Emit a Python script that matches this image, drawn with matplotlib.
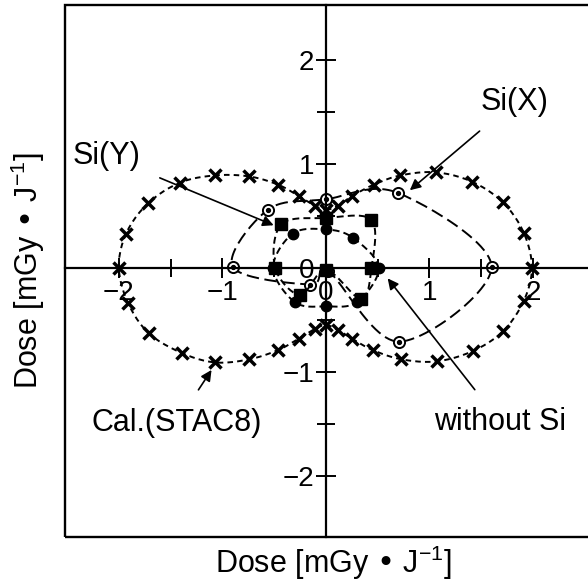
import numpy as np
import matplotlib
matplotlib.use("Agg")
import matplotlib.pyplot as plt
from matplotlib.patches import Rectangle

plt.rcParams['font.family'] = ['Liberation Sans', 'DejaVu Sans']
plt.rcParams['lines.scale_dashes'] = False

## Dose points (x, y) in mGy/J ##

# calculation, STAC8 (two-lobed curve, traced clockwise from the top centre)
cal_x = [0.00, 0.12, 0.25, 0.46, 0.72, 1.06, 1.41, 1.71, 1.91, 1.99,
         1.91, 1.71, 1.42, 1.07, 0.73, 0.45, 0.25, 0.12,
         0.00, -0.11, -0.26, -0.46, -0.74, -1.07, -1.39, -1.71, -1.91, -2.00,
         -1.93, -1.72, -1.41, -1.07, -0.74, -0.46, -0.26, -0.11]
cal_y = [0.56, 0.60, 0.69, 0.80, 0.89, 0.92, 0.83, 0.63, 0.34, 0.00,
         -0.32, -0.61, -0.80, -0.90, -0.88, -0.79, -0.68, -0.60,
         -0.55, -0.59, -0.68, -0.79, -0.88, -0.91, -0.82, -0.63, -0.34, 0.00,
         0.33, 0.62, 0.82, 0.89, 0.88, 0.80, 0.69, 0.60]

# measured with Si in X direction
six_x = [1.60, 0.70, 0.00, -0.56, -0.90, -0.15, 0.02, 0.71]
six_y = [0.01, 0.72, 0.66, 0.56, 0.01, -0.16, -0.03, -0.71]

# measured with Si in Y direction
siy_x = [0.44, 0.44, 0.00, -0.43, -0.49, -0.25, 0.00, 0.34]
siy_y = [0.00, 0.46, 0.48, 0.42, 0.00, -0.26, -0.02, -0.30]

# measured without Si
nosi_x = [0.51, 0.26, 0.00, -0.32, -0.51, -0.30, 0.00, 0.30]
nosi_y = [0.00, 0.29, 0.37, 0.33, 0.00, -0.33, -0.37, -0.33]

ticks = [-2, -1, 0, 1, 2]
minor_ticks = [-1.5, -0.5, 0.5, 1.5]


def closed_curve(xs, ys, n=24):
    '''
    Smooth closed line through the points (Catmull-Rom).
    '''
    pts = np.column_stack([xs, ys])
    m = len(pts)
    t = np.linspace(0, 1, n, endpoint=False)[:, None]
    out = []
    for i in range(m):
        p0, p1, p2, p3 = pts[i - 1], pts[i], pts[(i + 1) % m], pts[(i + 2) % m]
        seg = 0.5 * ((2 * p1) + (-p0 + p2) * t + (2 * p0 - 5 * p1 + 4 * p2 - p3) * t ** 2
                     + (-p0 + 3 * p1 - 3 * p2 + p3) * t ** 3)
        out.append(seg)
    out.append(pts[:1])
    c = np.vstack(out)
    return c[:, 0], c[:, 1]


fig = plt.figure(figsize=(5.88, 5.88), dpi=100)
ax = fig.add_axes([65 / 588, 51 / 588, 527 / 588, 532 / 588])
ax.set_xlim(-2.52, 2.57)
ax.set_ylim(-2.59, 2.53)

## Axes through the origin, plus a frame ##

ax.spines['left'].set_position(('data', 0))
ax.spines['bottom'].set_position(('data', 0))
ax.spines['top'].set_visible(False)
ax.spines['right'].set_visible(False)
for s in ['left', 'bottom']:
    ax.spines[s].set_linewidth(1.6)
ax.add_patch(Rectangle((0, 0), 1, 1, transform=ax.transAxes, fill=False,
                       lw=1.7, ec='black', clip_on=False, zorder=3))

ax.set_xticks(ticks)
ax.set_yticks(ticks)
ax.set_xticks(minor_ticks, minor=True)
ax.set_yticks(minor_ticks, minor=True)
ax.tick_params(which='major', direction='inout', length=15, width=1.4,
               labelsize=20, pad=1)
ax.tick_params(which='minor', direction='inout', length=13, width=1.4)

## Curves ##

cx, cy = closed_curve(cal_x, cal_y, n=6)
ax.plot(cx, cy, color='black', lw=1.4, dashes=(4, 3))
ax.plot(cal_x, cal_y, 'x', color='black', ms=8, mew=2.5)

sx, sy = closed_curve(six_x, six_y)
ax.plot(sx, sy, color='black', lw=1.4, dashes=(9, 4))
ax.plot(six_x, six_y, 'o', color='black', mfc='white', ms=8, mew=1.4)
ax.plot(six_x, six_y, 'o', color='black', ms=2.8)

yx, yy = closed_curve(siy_x, siy_y)
ax.plot(yx, yy, color='black', lw=1.4, dashes=(5, 3))
ax.plot(siy_x, siy_y, 's', color='black', ms=8)

nx, ny = closed_curve(nosi_x, nosi_y)
ax.plot(nx, ny, color='black', lw=1.4, dashes=(5, 3))
ax.plot(nosi_x, nosi_y, 'o', color='black', ms=7.5)

## Labels and arrows ##

arrow = dict(arrowstyle='-|>', color='black', lw=1.2, mutation_scale=16)
ax.annotate('Si(Y)', xy=(-0.48, 0.40), xytext=(-2.12, 1.08), fontsize=22,
            ha='center', va='center', arrowprops=dict(arrow, shrinkA=13, shrinkB=2))
ax.annotate('Si(X)', xy=(0.79, 0.73), xytext=(1.82, 1.60), fontsize=22,
            ha='center', va='center', arrowprops=dict(arrow, shrinkA=13, shrinkB=2))
ax.annotate('Cal.(STAC8)', xy=(-1.09, -0.96), xytext=(-1.44, -1.49), fontsize=22,
            ha='center', va='center', arrowprops=dict(arrow, shrinkA=13, shrinkB=2))
ax.annotate('without Si', xy=(0.58, -0.08), xytext=(1.68, -1.48), fontsize=22,
            ha='center', va='center', arrowprops=dict(arrow, shrinkA=13, shrinkB=2))

label = 'Dose [mGy \u2022 $\\mathregular{J^{-1}}$]'
ax.set_xlabel(label, fontsize=22)
ax.set_ylabel(label, fontsize=22)
ax.xaxis.set_label_coords(0.51, -0.012)
ax.yaxis.set_label_coords(-0.034, 0.50)

fig.savefig('out.png', dpi=100)
